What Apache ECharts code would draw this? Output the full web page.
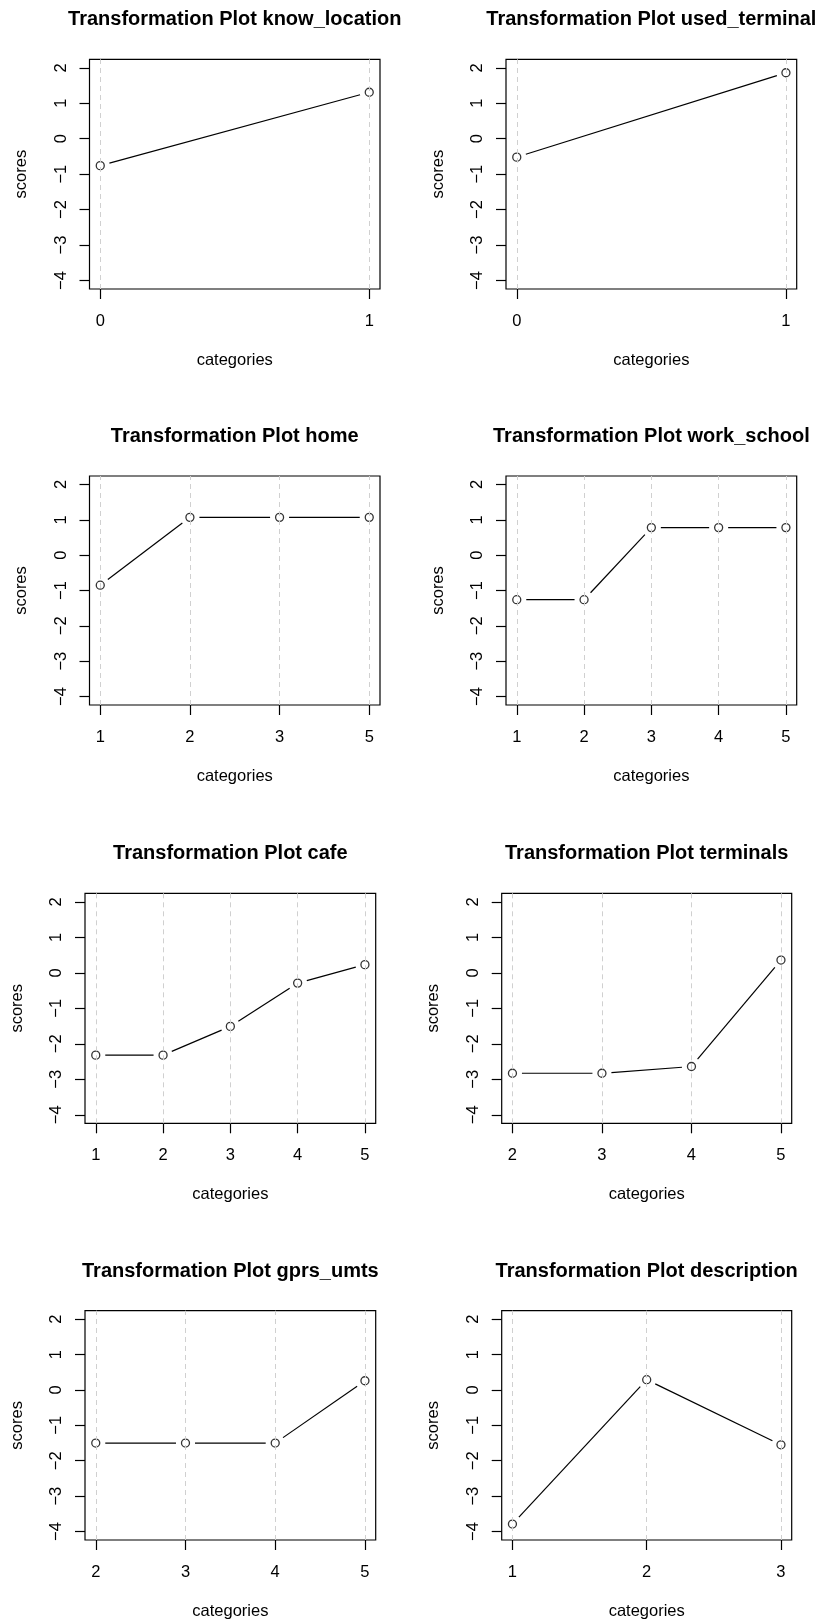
<!DOCTYPE html>
<html><head><meta charset="utf-8">
<script src="https://cdn.jsdelivr.net/npm/echarts@6/dist/echarts.min.js"></script>
<style>html,body{margin:0;padding:0;background:#fff}#c{width:821px;height:1623px}</style>
</head><body><div id="c"></div>
<script>
// ---- data ----
const titles = [
  'Transformation Plot know_location',
  'Transformation Plot used_terminal',
  'Transformation Plot home',
  'Transformation Plot work_school',
  'Transformation Plot cafe',
  'Transformation Plot terminals',
  'Transformation Plot gprs_umts',
  'Transformation Plot description'
];
const catsKnowLocation = ['0', '1'];
const scoresKnowLocation = [-0.76, 1.31];
const catsUsedTerminal = ['0', '1'];
const scoresUsedTerminal = [-0.52, 1.86];
const catsHome = ['1', '2', '3', '5'];
const scoresHome = [-0.85, 1.07, 1.07, 1.07];
const catsWorkSchool = ['1', '2', '3', '4', '5'];
const scoresWorkSchool = [-1.26, -1.26, 0.78, 0.78, 0.78];
const catsCafe = ['1', '2', '3', '4', '5'];
const scoresCafe = [-2.32, -2.32, -1.51, -0.29, 0.23];
const catsTerminals = ['2', '3', '4', '5'];
const scoresTerminals = [-2.83, -2.83, -2.64, 0.36];
const catsGprsUmts = ['2', '3', '4', '5'];
const scoresGprsUmts = [-1.50, -1.50, -1.50, 0.26];
const catsDescription = ['1', '2', '3'];
const scoresDescription = [-3.79, 0.29, -1.55];
const yTicks = [-4, -3, -2, -1, 0, 1, 2];
const yLimits = [-4, 2];
const xLabelName = 'categories';
const yLabelName = 'scores';

const allCats = [catsKnowLocation, catsUsedTerminal, catsHome, catsWorkSchool, catsCafe, catsTerminals, catsGprsUmts, catsDescription];
const allScores = [scoresKnowLocation, scoresUsedTerminal, scoresHome, scoresWorkSchool, scoresCafe, scoresTerminals, scoresGprsUmts, scoresDescription];

// ---- layout (px): left, top, width, height of each plot box ----
const boxes = [
  [89.5, 59.3, 290.5, 229.7], [506, 59.3, 290.7, 229.7],
  [89.5, 476, 290.5, 229], [506, 476, 290.7, 229],
  [85, 893.3, 290.7, 230], [501.7, 893.3, 290, 230],
  [85, 1310.7, 290.7, 229.3], [501.7, 1310.7, 290, 229.3]
];

const FONT = '"Liberation Sans", Arial, Helvetica, sans-serif';
const BASE = 16.5;
const fmtNum = v => (v < 0 ? '\u2212' + Math.abs(v) : String(v));

function renderSeg(params, api) {
  const p1 = api.coord([api.value(0), api.value(1)]);
  const p2 = api.coord([api.value(2), api.value(3)]);
  const dx = p2[0] - p1[0], dy = p2[1] - p1[1];
  const d = Math.hypot(dx, dy);
  const g = 9.5;
  if (d <= 2 * g) return null;
  const ux = dx / d, uy = dy / d;
  return {
    type: 'line',
    shape: { x1: p1[0] + ux * g, y1: p1[1] + uy * g, x2: p2[0] - ux * g, y2: p2[1] - uy * g },
    style: { stroke: '#000', lineWidth: 1.2 }
  };
}

const grid = [], xAxis = [], yAxis = [], series = [], title = [];
const yPad = (yLimits[1] - yLimits[0]) * 0.04;

boxes.forEach((b, k) => {
  const cats = allCats[k], vals = allScores[k];
  const n = cats.length;
  const idx = cats.map((c, i) => i);
  const xPad = (n - 1) * 0.04;
  grid.push({ left: b[0], top: b[1], width: b[2], height: b[3], show: true,
    borderColor: '#000', borderWidth: 1.2, backgroundColor: 'transparent', containLabel: false });
  title.push({ text: titles[k], left: b[0] + b[2] / 2, top: b[1] - 49.5, textAlign: 'center', padding: 0,
    textStyle: { fontFamily: FONT, fontSize: 20, fontWeight: 'bold', color: '#000' } });
  xAxis.push({
    type: 'value', gridIndex: k, min: -xPad, max: (n - 1) + xPad, position: 'bottom',
    name: xLabelName, nameLocation: 'middle', nameGap: 63,
    nameTextStyle: { fontFamily: FONT, fontSize: BASE, color: '#000' },
    axisLine: { show: false, onZero: false },
    axisTick: { show: true, customValues: idx, length: 10, lineStyle: { color: '#000', width: 1.2 } },
    axisLabel: { show: true, customValues: idx, margin: 24, fontFamily: FONT, fontSize: BASE, color: '#000',
      formatter: v => cats[Math.round(v)] },
    splitLine: { show: false }
  });
  yAxis.push({
    type: 'value', gridIndex: k, min: yLimits[0] - yPad, max: yLimits[1] + yPad, position: 'left',
    name: yLabelName, nameLocation: 'middle', nameGap: 59.5, nameRotate: 90,
    nameTextStyle: { fontFamily: FONT, fontSize: BASE, color: '#000' },
    axisLine: { show: false, onZero: false },
    axisTick: { show: true, customValues: yTicks, length: 10, lineStyle: { color: '#000', width: 1.2 } },
    axisLabel: { show: true, customValues: yTicks, rotate: 90, margin: 20, fontFamily: FONT, fontSize: BASE, color: '#000',
      formatter: fmtNum },
    splitLine: { show: false }
  });
  const segs = [];
  for (let i = 0; i < n - 1; i++) segs.push([i, vals[i], i + 1, vals[i + 1]]);
  series.push({
    type: 'custom', xAxisIndex: k, yAxisIndex: k, renderItem: renderSeg, data: segs,
    encode: { x: [0, 2], y: [1, 3] }, silent: true, z: 3,
    markLine: { silent: true, symbol: 'none', label: { show: false },
      lineStyle: { color: '#d0d0d0', type: [5, 4], width: 1 },
      data: idx.map(i => ({ xAxis: i })), animation: false }
  });
  series.push({
    type: 'scatter', xAxisIndex: k, yAxisIndex: k, data: vals.map((v, i) => [i, v]),
    symbol: 'circle', symbolSize: 8, silent: true, z: 4,
    itemStyle: { color: 'rgba(0,0,0,0)', borderColor: '#000', borderWidth: 1.3 }
  });
});

const chart = echarts.init(document.getElementById('c'), null, { renderer: 'canvas' });
chart.setOption({ animation: false, backgroundColor: '#fff', title, grid, xAxis, yAxis, series });
</script>
</body></html>
